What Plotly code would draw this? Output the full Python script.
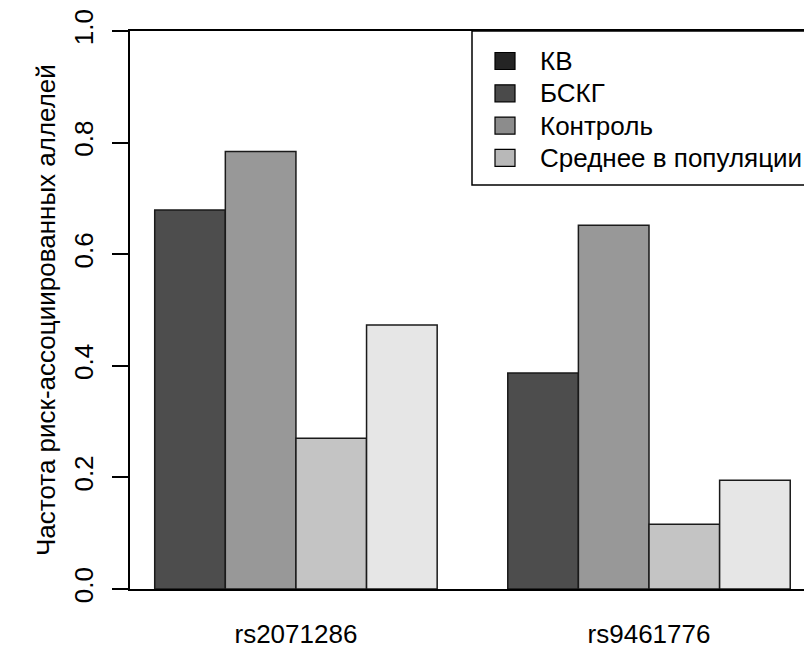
import plotly.graph_objects as go

# ---- data ----
snps = ["rs2071286", "rs9461776"]
series_names = ["КВ", "БСКГ", "Контроль", "Среднее в популяции"]
val_kv = [0.679, 0.387]
val_bskg = [0.784, 0.652]
val_control = [0.270, 0.116]
val_mean = [0.473, 0.195]
y_ticks = [0.0, 0.2, 0.4, 0.6, 0.8, 1.0]
y_ticklabels = ["0.0", "0.2", "0.4", "0.6", "0.8", "1.0"]

bar_colors = ["#4d4d4d", "#989898", "#c4c4c4", "#e6e6e6"]
legend_colors = ["#242424", "#4a4a4a", "#8c8c8c", "#b8b8b8"]

W, H = 804, 648
L, R, T, B = 130, 0, 31, 59
PW, PH = W - L - R, H - T - B
FONT = "Liberation Sans, Arial, sans-serif"
FS = 26


def px_x(x):
    return (x - L) / PW


def px_y(y):
    return (H - B - y) / PH


fig = go.Figure()
for name, vals, col in zip(series_names, [val_kv, val_bskg, val_control, val_mean], bar_colors):
    fig.add_trace(go.Bar(
        x=snps, y=vals, name=name, showlegend=False,
        marker=dict(color=col, line=dict(color="#1a1a1a", width=1.5)),
    ))

shapes = []
annotations = []
# legend box
shapes.append(dict(type="rect", xref="paper", yref="paper",
                   x0=px_x(472), x1=px_x(830), y0=px_y(185), y1=px_y(31),
                   line=dict(color="black", width=1.5), fillcolor="white", layer="above"))
for i, (name, col) in enumerate(zip(series_names, legend_colors)):
    cy = 61 + i * 32.3
    shapes.append(dict(type="rect", xref="paper", yref="paper",
                       x0=px_x(495), x1=px_x(515), y0=px_y(cy + 8.5), y1=px_y(cy - 8.5),
                       line=dict(color="black", width=1.2), fillcolor=col, layer="above"))
    annotations.append(dict(text=name, xref="paper", yref="paper", x=px_x(538), y=px_y(cy),
                            xanchor="left", yanchor="middle", showarrow=False,
                            font=dict(family=FONT, size=FS, color="black")))

annotations.append(dict(text="Частота риск-ассоциированных аллелей", xref="paper", yref="paper",
                        x=px_x(46), y=0.5, textangle=-90, xanchor="center", yanchor="middle",
                        showarrow=False, font=dict(family=FONT, size=FS, color="black")))

fig.update_layout(
    width=W, height=H,
    margin=dict(l=L, r=R, t=T, b=B, pad=0),
    paper_bgcolor="white", plot_bgcolor="white",
    barmode="group", bargap=0.2, bargroupgap=0,
    font=dict(family=FONT, size=FS, color="black"),
    shapes=shapes, annotations=annotations,
    xaxis=dict(range=[-0.470, 1.439], showgrid=False, zeroline=False, automargin=False,
               showline=True, mirror=True, linecolor="black", linewidth=1.5,
               ticks="", ticklabelstandoff=21, tickfont=dict(family=FONT, size=FS)),
    yaxis=dict(range=[0, 1], showgrid=False, zeroline=False, automargin=False,
               showline=True, mirror=False, linecolor="black", linewidth=1.5,
               tickvals=y_ticks, ticktext=y_ticklabels, tickangle=-90,
               ticks="outside", ticklen=16, tickwidth=1.5, tickcolor="black",
               ticklabelstandoff=9, tickfont=dict(family=FONT, size=FS)),
)

fig.write_html("out.html")
